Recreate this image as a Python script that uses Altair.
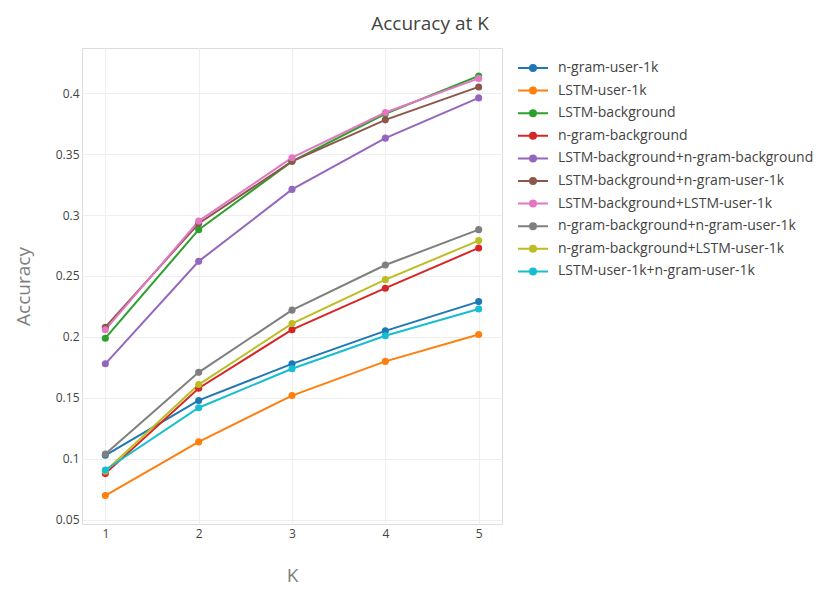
import altair as alt
import pandas as pd

K = [1, 2, 3, 4, 5]

series = [
    "n-gram-user-1k",
    "LSTM-user-1k",
    "LSTM-background",
    "n-gram-background",
    "LSTM-background+n-gram-background",
    "LSTM-background+n-gram-user-1k",
    "LSTM-background+LSTM-user-1k",
    "n-gram-background+n-gram-user-1k",
    "n-gram-background+LSTM-user-1k",
    "LSTM-user-1k+n-gram-user-1k",
]

ngram_user = [0.103, 0.148, 0.178, 0.205, 0.229]
lstm_user = [0.070, 0.114, 0.152, 0.180, 0.202]
lstm_bg = [0.199, 0.288, 0.344, 0.383, 0.414]
ngram_bg = [0.088, 0.158, 0.206, 0.240, 0.273]
lstm_bg_ngram_bg = [0.178, 0.262, 0.321, 0.363, 0.396]
lstm_bg_ngram_user = [0.208, 0.293, 0.344, 0.378, 0.405]
lstm_bg_lstm_user = [0.206, 0.295, 0.347, 0.384, 0.412]
ngram_bg_ngram_user = [0.104, 0.171, 0.222, 0.259, 0.288]
ngram_bg_lstm_user = [0.090, 0.161, 0.211, 0.247, 0.279]
lstm_user_ngram_user = [0.091, 0.142, 0.174, 0.201, 0.223]

values = [
    ngram_user, lstm_user, lstm_bg, ngram_bg, lstm_bg_ngram_bg,
    lstm_bg_ngram_user, lstm_bg_lstm_user, ngram_bg_ngram_user,
    ngram_bg_lstm_user, lstm_user_ngram_user,
]

colors = ["#1f77b4", "#ff7f0e", "#2ca02c", "#d62728", "#9467bd",
          "#8c564b", "#e377c2", "#7f7f7f", "#bcbd22", "#17becf"]

rows = []
for i, (name, vals) in enumerate(zip(series, values)):
    for k, v in zip(K, vals):
        rows.append({"K": k, "Accuracy": v, "series": name, "idx": i})
df = pd.DataFrame(rows)

FONT = "Open Sans"

# legend glyph: 30px line with a filled-looking dot (path in units of 5px)
legend_path = ("M-3,0L3,0"
               "M-0.2,0a0.2,0.2 0 1,0 0.4,0a0.2,0.2 0 1,0 -0.4,0"
               "M-0.45,0a0.45,0.45 0 1,0 0.9,0a0.45,0.45 0 1,0 -0.9,0"
               "M-0.6,0a0.6,0.6 0 1,0 1.2,0a0.6,0.6 0 1,0 -1.2,0")

axis_common = dict(
    labelFont=FONT, labelFontSize=12, labelColor="#444",
    titleFont=FONT, titleFontSize=19, titleColor="#7f7f7f",
    titleFontWeight="normal", gridColor="#eeeeee", gridWidth=1,
    domain=False, ticks=False, grid=True,
)

chart = alt.Chart(df).mark_line(
    strokeWidth=2,
    point=alt.OverlayMarkDef(filled=True, size=50, opacity=1),
).encode(
    x=alt.X("K:Q",
            scale=alt.Scale(domain=[0.75, 5.25], nice=False, zero=False),
            axis=alt.Axis(values=K, format="d", title="K",
                          labelPadding=4, titlePadding=27, **axis_common)),
    y=alt.Y("Accuracy:Q",
            scale=alt.Scale(domain=[0.0467, 0.4369], nice=False, zero=False),
            axis=alt.Axis(values=[0.05, 0.1, 0.15, 0.2, 0.25, 0.3, 0.35, 0.4],
                          format="~g", title="Accuracy",
                          labelPadding=3, titlePadding=22, **axis_common)),
    color=alt.Color("series:N",
                    scale=alt.Scale(domain=series, range=colors),
                    legend=alt.Legend(title=None, orient="none",
                                      legendX=444, legendY=13,
                                      symbolType=legend_path,
                                      symbolSize=100, symbolStrokeWidth=2,
                                      labelFontSize=14, labelFont=FONT,
                                      labelColor="#444", labelOffset=18,
                                      rowPadding=8.6, labelLimit=400)),
    order=alt.Order("K:Q"),
).properties(
    width=420,
    height=476,
    title=alt.TitleParams("Accuracy at K", fontSize=19, font=FONT,
                          fontWeight="normal", color="#444",
                          anchor="middle", frame="group", dx=138, offset=14),
    autosize=alt.AutoSizeParams(type="none"),
    padding={"left": 74, "top": 40, "right": 312, "bottom": 62},
).configure_view(
    strokeWidth=0,
).configure(background="white")

chart.save("out.html", embed_options={"renderer": "svg", "actions": False})
